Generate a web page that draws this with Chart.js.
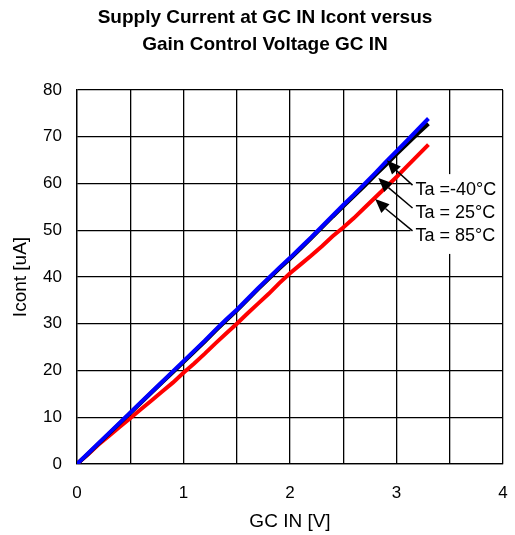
<!DOCTYPE html>
<html>
<head>
<meta charset="utf-8">
<script src="https://cdn.jsdelivr.net/npm/chart.js@4/dist/chart.umd.min.js"></script>
<style>
  html, body { margin: 0; padding: 0; background: #fff; }
  #wrap { width: 515px; height: 535px; }
</style>
</head>
<body>
<div id="wrap"><canvas id="chart"></canvas></div>
<script>
const TITLE = ['Supply Current at GC IN Icont versus', 'Gain Control Voltage GC IN'];
const X_LABEL = 'GC IN [V]';
const Y_LABEL = 'Icont [uA]';

// GC IN voltage, V
const voltage = [0.0, 0.1, 0.2, 0.3, 0.4, 0.5, 0.6, 0.7, 0.8, 0.9,
                 1.0, 1.1, 1.2, 1.3, 1.4, 1.5, 1.6, 1.7, 1.8, 1.9,
                 2.0, 2.1, 2.2, 2.3, 2.4, 2.5, 2.6, 2.7, 2.8, 2.9,
                 3.0, 3.1, 3.2, 3.3];

// Icont, uA
const icontMinus40 = [0.0, 2.1, 4.3, 6.5, 8.7, 10.9, 13.1, 15.3, 17.5, 19.6,
                      21.8, 24.0, 26.2, 28.5, 30.7, 32.8, 35.1, 37.4, 39.6, 41.8,
                      43.9, 46.1, 48.3, 50.6, 52.9, 55.1, 57.3, 59.5, 61.8, 64.0,
                      66.3, 68.5, 70.7, 72.8];
const icont25 = [0.0, 2.2, 4.4, 6.6, 8.8, 11.0, 13.2, 15.4, 17.6, 19.8,
                 22.0, 24.2, 26.4, 28.7, 30.9, 33.0, 35.3, 37.6, 39.8, 42.0,
                 44.1, 46.3, 48.5, 50.8, 53.1, 55.4, 57.6, 59.9, 62.2, 64.6,
                 66.9, 69.2, 71.6, 73.9];
const icont85 = [0.0, 2.0, 4.1, 6.0, 7.9, 9.8, 11.7, 13.6, 15.5, 17.4,
                 19.5, 21.5, 23.6, 25.8, 27.9, 30.0, 32.2, 34.3, 36.4, 38.7,
                 40.8, 42.7, 44.6, 46.6, 48.7, 50.6, 52.6, 54.8, 57.0, 59.2,
                 61.4, 63.7, 66.0, 68.3];

// callouts: text, label anchor (V, uA), arrow tip (V, uA)
const callouts = [
  { text: 'Ta =-40\u00B0C', at: [3.16, 58.8], tip: [2.91, 65.0] },
  { text: 'Ta = 25\u00B0C', at: [3.16, 53.9], tip: [2.83, 61.2] },
  { text: 'Ta = 85\u00B0C', at: [3.16, 49.0], tip: [2.80, 56.7] }
];

function toPoints(ys) {
  return voltage.map((v, i) => ({ x: v, y: ys[i] }));
}

const FONT = "'Liberation Sans', Arial, sans-serif";

const decorPlugin = {
  id: 'decor',
  afterDraw(chart) {
    const ctx = chart.ctx;
    const xs = chart.scales.x, ys = chart.scales.y;
    ctx.save();

    // title
    ctx.fillStyle = '#000';
    ctx.font = 'bold 19px ' + FONT;
    ctx.textAlign = 'center';
    ctx.textBaseline = 'middle';
    TITLE.forEach((line, i) => ctx.fillText(line, 265, 18 + i * 27));

    // white box behind callout labels
    const x0 = xs.getPixelForValue(callouts[0].at[0]) - 3;
    const yTop = ys.getPixelForValue(callouts[0].at[1]) - 15;
    const yBot = ys.getPixelForValue(callouts[2].at[1]) + 19;
    ctx.fillStyle = '#fff';
    ctx.fillRect(x0, yTop, chart.chartArea.right - 1 - x0, yBot - yTop);

    ctx.font = '18px ' + FONT;
    ctx.textAlign = 'left';
    ctx.textBaseline = 'middle';
    callouts.forEach(c => {
      const lx = xs.getPixelForValue(c.at[0]);
      const ly = ys.getPixelForValue(c.at[1]);
      const tx = xs.getPixelForValue(c.tip[0]);
      const ty = ys.getPixelForValue(c.tip[1]);
      ctx.fillStyle = '#000';
      ctx.fillText(c.text, lx + 2, ly + 1);

      // arrow shaft
      const ang = Math.atan2(ty - ly, tx - lx);
      const headLen = 14, headW = 6;
      const bx = tx - headLen * Math.cos(ang);
      const by = ty - headLen * Math.sin(ang);
      ctx.strokeStyle = '#000';
      ctx.lineWidth = 1.5;
      ctx.beginPath();
      ctx.moveTo(lx - 1, ly - 4);
      ctx.lineTo(bx, by);
      ctx.stroke();
      // arrow head
      ctx.beginPath();
      ctx.moveTo(tx, ty);
      ctx.lineTo(bx + headW * Math.sin(ang), by - headW * Math.cos(ang));
      ctx.lineTo(bx - headW * Math.sin(ang), by + headW * Math.cos(ang));
      ctx.closePath();
      ctx.fill();
    });
    ctx.restore();
  }
};

const lineStyle = { borderWidth: 4, pointRadius: 0, fill: false, tension: 0 };

new Chart(document.getElementById('chart'), {
  type: 'line',
  data: {
    datasets: [
      { label: 'Ta = 85°C', data: toPoints(icont85), borderColor: '#ff0000', order: 3, ...lineStyle },
      { label: 'Ta =-40°C', data: toPoints(icontMinus40), borderColor: '#000000', order: 2, ...lineStyle },
      { label: 'Ta = 25°C', data: toPoints(icont25), borderColor: '#0000ff', order: 1, ...lineStyle }
    ]
  },
  options: {
    responsive: true,
    maintainAspectRatio: false,
    animation: false,
    layout: { padding: { top: 90, right: 12, left: 0, bottom: 0 } },
    plugins: {
      legend: { display: false },
      tooltip: { enabled: false },
      title: { display: false }
    },
    scales: {
      x: {
        type: 'linear',
        min: 0,
        max: 4,
        afterFit(scale) { scale.height = 71; },
        ticks: {
          stepSize: 0.5,
          padding: 0,
          color: '#000',
          font: { family: FONT, size: 17 },
          maxRotation: 0,
          callback: v => Number.isInteger(v) ? String(v) : ''
        },
        // invisible tick marks push the labels down without widening the right margin
        grid: { color: '#000', lineWidth: 1.3, drawTicks: true, tickLength: 19, tickColor: 'rgba(0,0,0,0)' },
        border: { color: '#000', width: 1.3 },
        title: {
          display: true,
          text: X_LABEL,
          color: '#000',
          font: { family: FONT, size: 19 },
          padding: { top: 0, bottom: 2 }
        }
      },
      y: {
        min: 0,
        max: 80,
        afterFit(scale) { scale.width = 77; },
        ticks: {
          stepSize: 10,
          padding: 15,
          color: '#000',
          font: { family: FONT, size: 17 }
        },
        grid: { color: '#000', lineWidth: 1.3, drawTicks: false },
        border: { color: '#000', width: 1.3 },
        title: {
          display: true,
          text: Y_LABEL,
          color: '#000',
          font: { family: FONT, size: 19 },
          padding: { top: 9, bottom: 0 }
        }
      }
    }
  },
  plugins: [decorPlugin]
});
</script>
</body>
</html>
